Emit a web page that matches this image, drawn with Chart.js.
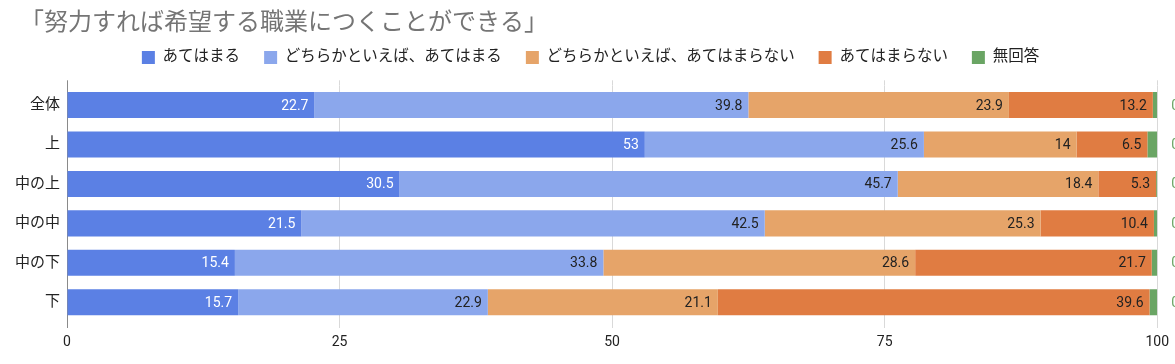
<!DOCTYPE html>
<html lang="ja">
<head>
<meta charset="utf-8">
<title>努力すれば希望する職業につくことができる</title>
<script src="https://cdn.jsdelivr.net/npm/chart.js@4/dist/chart.umd.min.js"></script>
<style>
  html, body { margin: 0; padding: 0; background: #fff; }
  #wrap { width: 1175px; height: 364px; position: relative; }
</style>
</head>
<body>
<div id="wrap"><canvas id="chart"></canvas></div>
<script>
// Data
const chartTitle = '「努力すれば希望する職業につくことができる」';
const categories = ['全体', '上', '中の上', '中の中', '中の下', '下'];
const seriesNames = ['あてはまる', 'どちらかといえば、あてはまる', 'どちらかといえば、あてはまらない', 'あてはまらない', '無回答'];
const yesValues = [22.7, 53, 30.5, 21.5, 15.4, 15.7];
const ratherYesValues = [39.8, 25.6, 45.7, 42.5, 33.8, 22.9];
const ratherNoValues = [23.9, 14, 18.4, 25.3, 28.6, 21.1];
const noValues = [13.2, 6.5, 5.3, 10.4, 21.7, 39.6];
const noAnswerValues = [0.4, 0.9, 0.1, 0.3, 0.5, 0.7];
const xTicks = [0, 25, 50, 75, 100];

const seriesColors = ['#5b80e4', '#8ba7ec', '#e6a469', '#e07c42', '#6aa564'];
const FONT = "Roboto, 'Noto Sans CJK JP', sans-serif";

Chart.defaults.font.family = FONT;
Chart.defaults.color = '#222';

const allValues = [yesValues, ratherYesValues, ratherNoValues, noValues, noAnswerValues];

// value labels at the inner end of each segment, "無回答" outside the plot
const valueLabels = {
    id: 'valueLabels',
    afterDatasetsDraw(chart) {
        const ctx = chart.ctx;
        ctx.save();
        ctx.font = '14px ' + FONT;
        ctx.textBaseline = 'middle';
        chart.data.datasets.forEach((ds, i) => {
            const meta = chart.getDatasetMeta(i);
            meta.data.forEach((bar, j) => {
                const v = ds.data[j];
                if (i === 4) {
                    ctx.fillStyle = seriesColors[4];
                    ctx.textAlign = 'left';
                    ctx.fillText(String(v), chart.chartArea.right + 14, bar.y + 1);
                } else {
                    ctx.fillStyle = i === 0 ? '#fff' : '#222';
                    ctx.textAlign = 'right';
                    ctx.fillText(String(v), bar.x - 6, bar.y + 1);
                }
            });
        });
        ctx.restore();
    }
};

const gridColor = (c) => (c.tick && c.tick.value === 0 ? '#8a8a8a' : '#d9d9d9');

new Chart(document.getElementById('chart'), {
    type: 'bar',
    data: {
        labels: categories,
        datasets: seriesNames.map((name, i) => ({
            label: name,
            data: allValues[i],
            backgroundColor: seriesColors[i],
            borderWidth: 0,
            categoryPercentage: 1,
            barPercentage: 0.66
        }))
    },
    options: {
        indexAxis: 'y',
        responsive: true,
        maintainAspectRatio: false,
        animation: false,
        layout: { padding: { left: 20, right: 14, top: 0, bottom: 14 } },
        plugins: {
            title: {
                display: true,
                text: chartTitle,
                align: 'start',
                color: '#757575',
                font: { size: 24, weight: 'normal', family: FONT },
                padding: { top: 10, bottom: -13 }
            },
            legend: {
                position: 'top',
                align: 'center',
                labels: {
                    boxWidth: 13,
                    boxHeight: 13,
                    padding: 24,
                    color: '#222',
                    font: { size: 15.5 }
                }
            },
            tooltip: { enabled: false }
        },
        scales: {
            x: {
                stacked: true,
                min: 0,
                max: 100,
                afterBuildTicks: (s) => { s.ticks = xTicks.map(v => ({ value: v })); },
                afterFit: (s) => { s.height = 28; },
                ticks: { color: '#222', font: { size: 14 }, padding: 6 },
                grid: { color: gridColor, tickLength: 6 },
                border: { display: false }
            },
            xTop: {
                type: 'linear',
                position: 'top',
                min: 0,
                max: 100,
                afterBuildTicks: (s) => { s.ticks = xTicks.map(v => ({ value: v })); },
                afterFit: (s) => { s.height = 10; },
                ticks: { display: false },
                grid: { color: gridColor, drawOnChartArea: false, tickLength: 5 },
                border: { display: false }
            },
            y: {
                stacked: true,
                afterFit: (s) => {
                    s.width = 47;
                    // long labels run a little past the padding, don't clip them
                    s._computeLabelArea = () => undefined;
                },
                ticks: { color: '#222', font: { size: 15 }, padding: 7 },
                grid: { display: false, drawTicks: false },
                border: { display: true, color: '#8a8a8a' }
            }
        }
    },
    plugins: [valueLabels]
});
</script>
</body>
</html>
